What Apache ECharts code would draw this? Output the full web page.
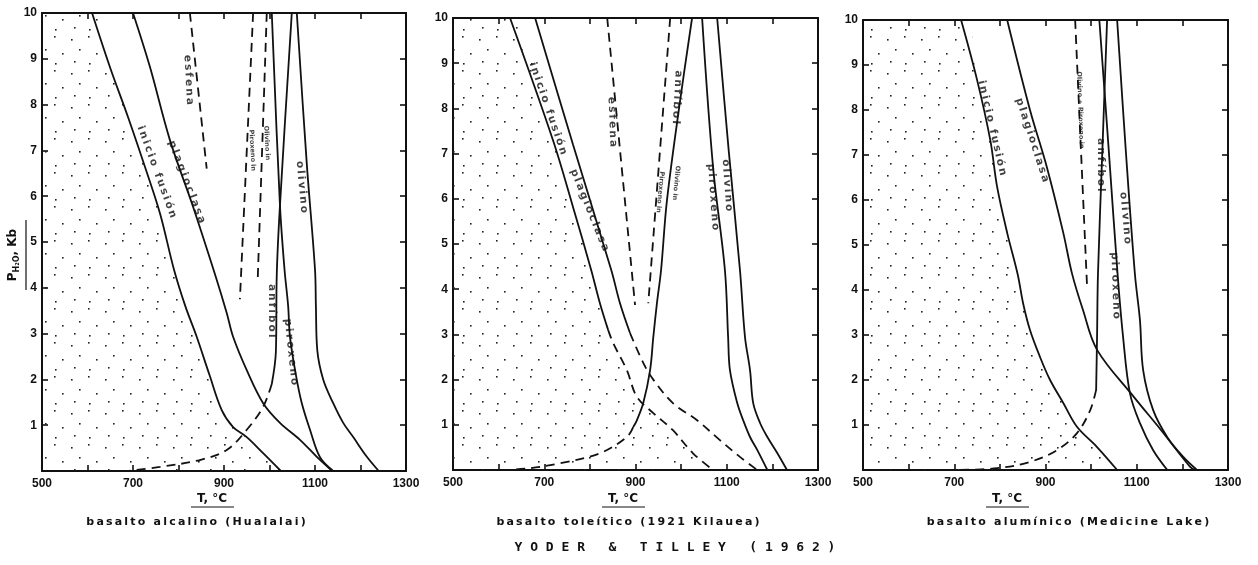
<!DOCTYPE html>
<html>
<head>
<meta charset="utf-8">
<title>Yoder & Tilley (1962)</title>
<script src="https://cdn.jsdelivr.net/npm/echarts@6/dist/echarts.min.js"></script>
<style>
  html, body { margin: 0; padding: 0; background: #fff; }
  #chart { width: 1258px; height: 565px; }
</style>
</head>
<body>
<div id="chart"></div>
<script>

// basalto alcalino (Hualalai)
const alcInicio = [[610,10],[650,8.8],[689,7.73],[731,6.5],[760,5.6],[790,4.4],[815,3.6],[840,2.93],[868,2.1],[895,1.33],[920,0.96],[950,0.74],[986,0.39],[1025,0]];
const alcPlagio = [[700,10],[737,8.83],[781,7.23],[832,5.77],[880,4.3],[906,3.45],[920,2.93],[950,2.2],[986,1.48],[1023,1.05],[1067,0.68],[1104,0.31],[1138,0]];
const alcEsfena = [[825,10],[862,6.6]];
const alcPiroxIn = [[964,10],[935,3.75]];
const alcOlivIn = [[994,10],[974,4.15]];
const alcAnfibol = [[1049,10],[1023,5.8],[1016,4.3],[1014,2.6],[1005,1.9]];
const alcAnfibolDash = [[1005,1.9],[986,1.4],[950,0.9],[906,0.46],[847,0.24],[759,0.09],[690,0]];
const alcPiroxeno = [[1005,10],[1023,5.8],[1033,4.4],[1041,3.6],[1045,2.93],[1058,2.1],[1071,1.48],[1089,0.9],[1111,0.3],[1140,0]];
const alcOlivino = [[1060,10],[1082,6.7],[1100,4.4],[1102,3.6],[1105,2.64],[1118,2.0],[1140,1.48],[1162,1.05],[1184,0.74],[1214,0.31],[1240,0]];

// basalto toleítico (1921 Kilauea)
const tolInicio = [[625,10],[719,7.3],[763,5.82],[803,4.42],[822,3.69],[840,3.1]];
const tolInicioDash = [[840,3.1],[851,2.81],[881,2.21],[903,1.62],[939,1.26],[982,0.88],[1026,0.37],[1070,0]];
const tolPlagio = [[680,10],[763,7.2],[847,4.42],[866,3.69],[888,3.03]];
const tolPlagioDash = [[888,3.03],[917,2.37],[939,2.0],[982,1.48],[1035,1.1],[1085,0.66],[1129,0.29],[1167,0]];
const tolEsfena = [[838,10],[899,3.65]];
const tolPiroxIn = [[976,10],[928,3.69]];
const tolAnfibol = [[1024,10],[998,8.19],[969,5.97],[956,4.42],[947,3.69],[939,2.94],[932,2.21],[917,1.48],[903,1.1],[895,0.95]];
const tolAnfibolDash = [[895,0.95],[881,0.73],[822,0.37],[735,0.15],[669,0.04],[618,0]];
const tolPiroxeno = [[1046,10],[1070,6.7],[1096,4.42],[1103,2.94],[1107,2.21],[1123,1.48],[1136,1.1],[1151,0.73],[1167,0.44],[1189,0]];
const tolOlivino = [[1079,10],[1104,7.1],[1129,4.42],[1140,2.94],[1151,2.21],[1158,1.48],[1173,1.04],[1189,0.73],[1211,0.37],[1232,0]];

// basalto alumínico (Medicine Lake)
const aluInicio = [[715,10],[750,8.67],[779,7.33],[794,6.29],[816,5.27],[839,4.35],[851,3.7],[866,3.11],[888,2.51],[910,2.0],[939,1.49],[969,0.96],[1013,0.51],[1057,0]];
const aluPlagio = [[816,10],[866,8.0],[903,6.73],[939,5.27],[958,4.37],[982,3.56],[1013,2.67],[1094,1.62],[1153,0.89],[1217,0.07],[1228,0]];
const aluOlPxIn = [[965,10],[991,4.1]];
const aluAnfibol = [[1035,10],[1025,7.2],[1015,4.35],[1013,2.96],[1011,1.78]];
const aluAnfibolDash = [[1011,1.78],[998,1.33],[969,0.82],[925,0.44],[866,0.18],[794,0.04],[706,0]];
const aluPiroxeno = [[1018,10],[1038,7.2],[1058,4.35],[1070,2.96],[1085,1.71],[1107,1.04],[1136,0.44],[1167,0]];
const aluOlivino = [[1057,10],[1076,7.1],[1096,4.35],[1107,3.33],[1114,2.22],[1136,1.33],[1167,0.73],[1202,0.29],[1232,0]];

// rótulos de las curvas: [texto, T, P, giro]
const alcLabels = [['inicio fusión',752,6.53,-70],['plagioclasa',818,6.31,-69],['esfena',822,8.54,-87],['olivino',1071,6.2,-85],['anfíbol',1005,3.5,-90],['piroxeno',1047,2.6,-84]];
const alcSmall = [['Piroxeno in',962,7.0,-87],['Olivino in',994,7.16,-87]];
const tolLabels = [['inicio fusión',708,8.0,-71],['plagioclasa',799,5.75,-68],['esfena',849,7.7,-88],['anfíbol',991,8.25,-93],['piroxeno',1070,6.04,-86],['olivino',1101,6.3,-86]];
const tolSmall = [['Piroxeno in',954,6.15,-95],['Olivino in',989,6.35,-95]];
const aluLabels = [['inicio fusión',783,7.6,-77],['plagioclasa',871,7.33,-72],['anfíbol',1020,6.78,-90],['olivino',1075,5.6,-85],['piroxeno',1053,4.1,-88]];
const aluSmall = [['Olivino + Piroxeno in',976,8.0,-88]];

const subtitles = ['basalto alcalino (Hualalai)', 'basalto toleítico (1921 Kilauea)', 'basalto alumínico (Medicine Lake)'];
const axisTitleX = 'T, °C';
const mainTitle = 'YODER & TILLEY (1962)';

// --- estilo ---
const FONT = '"DejaVu Sans", sans-serif';
const INK = '#111';
const grids = [
  { left: 42, top: 13, width: 364, height: 458 },
  { left: 453, top: 18, width: 365, height: 452 },
  { left: 863, top: 20, width: 365, height: 450 }
];

function spaced(s) {
  return s.split('').join('\u2009');
}

function makeDots() {
  const c = document.createElement('canvas');
  c.width = 34; c.height = 34;
  const ctx = c.getContext('2d');
  ctx.fillStyle = '#222';
  [[3,5],[20,2],[11,15],[28,19],[6,27],[21,29]].forEach(([x, y]) => ctx.fillRect(x, y, 1.6, 1.6));
  return c;
}
const dots = { image: makeDots(), repeat: 'repeat' };

function axisBase(g, pos, showLabel) {
  const isX = pos === 'bottom' || pos === 'top';
  return {
    gridIndex: g,
    type: 'value',
    position: pos,
    min: isX ? 500 : 0,
    max: isX ? 1300 : 10,
    interval: isX ? 100 : 1,
    axisLine: { show: true, onZero: false, lineStyle: { color: INK, width: 2 } },
    axisTick: { show: true, inside: true, length: 6, lineStyle: { color: INK, width: 1.6 } },
    splitLine: { show: false },
    axisLabel: {
      show: showLabel,
      color: INK,
      fontSize: 12,
      fontWeight: 'bold',
      fontFamily: '"Liberation Sans", Arial, sans-serif',
      margin: isX ? 7 : 5,
      formatter: isX
        ? v => ((v - 500) % 200 === 0 ? String(v) : '')
        : v => (v === 0 ? '' : String(v))
    }
  };
}

const xAxes = [], yAxes = [];
grids.forEach((_, g) => {
  xAxes.push(axisBase(g, 'bottom', true), axisBase(g, 'top', false));
  yAxes.push(axisBase(g, 'left', true), axisBase(g, 'right', false));
});

function curve(g, data, dashed) {
  return {
    type: 'line', xAxisIndex: 2 * g, yAxisIndex: 2 * g, data,
    showSymbol: false, smooth: 0.35, silent: true, z: 3,
    lineStyle: { color: INK, width: 1.8, type: dashed ? [9, 6] : 'solid' }
  };
}

function stipple(g, boundary) {
  return {
    type: 'line', xAxisIndex: 2 * g, yAxisIndex: 2 * g,
    data: [[500, 10]].concat(boundary),
    showSymbol: false, smooth: 0.35, silent: true, z: 1,
    lineStyle: { width: 0, opacity: 0 },
    areaStyle: { color: dots, opacity: 1 }
  };
}

function labels(g, list, size) {
  return {
    type: 'scatter', xAxisIndex: 2 * g, yAxisIndex: 2 * g, silent: true, z: 5,
    symbolSize: 1, itemStyle: { color: 'rgba(0,0,0,0)' },
    data: list.map(([t, T, P, r]) => ({ name: t, value: [T, P], label: { rotate: r } })),
    label: {
      show: true, position: 'inside', color: INK, fontSize: size, fontWeight: 'bold',
      fontFamily: FONT, formatter: p => (size > 9 ? spaced(p.name) : p.name)
    }
  };
}

const series = [
  stipple(0, alcInicio),
  curve(0, alcInicio), curve(0, alcPlagio), curve(0, alcEsfena, true),
  curve(0, alcPiroxIn, true), curve(0, alcOlivIn, true),
  curve(0, alcAnfibol), curve(0, alcAnfibolDash, true),
  curve(0, alcPiroxeno), curve(0, alcOlivino),
  labels(0, alcLabels, 10.5), labels(0, alcSmall, 6.5),

  stipple(1, tolInicio.concat(tolInicioDash.slice(1))),
  curve(1, tolInicio), curve(1, tolInicioDash, true),
  curve(1, tolPlagio), curve(1, tolPlagioDash, true),
  curve(1, tolEsfena, true), curve(1, tolPiroxIn, true),
  curve(1, tolAnfibol), curve(1, tolAnfibolDash, true),
  curve(1, tolPiroxeno), curve(1, tolOlivino),
  labels(1, tolLabels, 10.5), labels(1, tolSmall, 6.5),

  stipple(2, aluInicio),
  curve(2, aluInicio), curve(2, aluPlagio), curve(2, aluOlPxIn, true),
  curve(2, aluAnfibol), curve(2, aluAnfibolDash, true),
  curve(2, aluPiroxeno), curve(2, aluOlivino),
  labels(2, aluLabels, 10.5), labels(2, aluSmall, 6.5)
];

// textos fuera de los paneles
const txt = (x, y, text, size, extra) => ({
  type: 'text', x, y,
  style: Object.assign({ text, fill: INK, fontSize: size, fontWeight: 'bold', fontFamily: FONT, align: 'center', verticalAlign: 'middle' }, extra || {})
});
const rule = (x1, y1, x2, y2) => ({ type: 'line', shape: { x1, y1, x2, y2 }, style: { stroke: INK, lineWidth: 1.2 } });

const tCenters = [212, 623, 1007];
const subCenters = [196, 628, 1068];
const graphic = [];
tCenters.forEach((cx, i) => {
  graphic.push(txt(cx, 499, axisTitleX, 12));
  graphic.push(rule(cx - 21, 507, cx + 22, 507));
  graphic.push(txt(subCenters[i], 522, spaced(subtitles[i]), 11));
});
graphic.push(txt(675, 548, mainTitle.split('').join(' '), 13, { fontFamily: '"DejaVu Sans Mono", monospace' }));
graphic.push({
  type: 'text', x: 13, y: 255, rotation: Math.PI / 2,
  style: {
    text: '{p|P}{s|H₂O}{p|, Kb}', align: 'center', verticalAlign: 'middle', fill: INK,
    rich: {
      p: { fontSize: 12, fontWeight: 'bold', fontFamily: FONT, fill: INK },
      s: { fontSize: 8, fontWeight: 'bold', fontFamily: FONT, fill: INK, padding: [7, 0, 0, 0] }
    }
  }
});
graphic.push(rule(26, 220, 26, 290));

const chart = echarts.init(document.getElementById('chart'), null, { renderer: 'canvas' });
chart.setOption({
  backgroundColor: '#fff',
  animation: false,
  grid: grids,
  xAxis: xAxes,
  yAxis: yAxes,
  series,
  graphic
});
</script>
</body>
</html>
